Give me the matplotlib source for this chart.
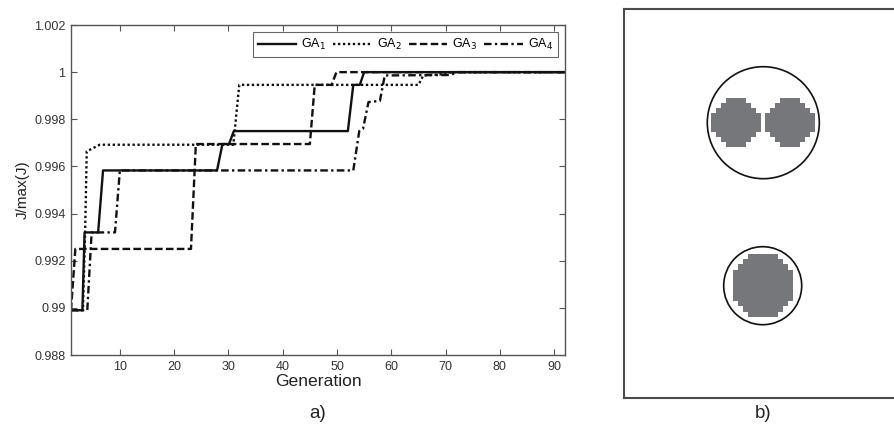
import numpy as np
import matplotlib
matplotlib.use('Agg')
import matplotlib.pyplot as plt
from matplotlib.patches import Circle
from matplotlib.ticker import FuncFormatter

plt.rcParams['font.family'] = ['Liberation Sans', 'DejaVu Sans']

# break points of the best-fitness curves (generation, J/max(J))
ga1_x = [1, 3.1, 3.5, 6.0, 6.9, 27.9, 28.9, 30.1, 31.0, 52.0, 53.0, 54.2, 55.0, 92]
ga1_y = [0.9899, 0.9899, 0.9932, 0.9932, 0.99583, 0.99583, 0.99695, 0.99695,
         0.9975, 0.9975, 0.99946, 0.99946, 1.0, 1.0]

ga2_x = [1, 3.2, 3.6, 3.9, 6.3, 30.9, 32.0, 65.0, 65.9, 70.0, 71.0, 92]
ga2_y = [0.9899, 0.9899, 0.9932, 0.99664, 0.99692, 0.99692, 0.99946, 0.99946,
         0.99986, 0.99992, 1.0, 1.0]

ga3_x = [1, 1.8, 23.1, 24.0, 45.0, 45.9, 49.0, 49.9, 92]
ga3_y = [0.9899, 0.9925, 0.9925, 0.99695, 0.99695, 0.99946, 0.99946, 1.0, 1.0]

ga4_x = [1, 4.0, 4.8, 9.1, 10.0, 53.0, 54.1, 54.8, 55.8, 57.9, 58.8, 71.0, 72.0, 92]
ga4_y = [0.9899, 0.9899, 0.9932, 0.9932, 0.99583, 0.99583, 0.9975, 0.9976,
         0.99873, 0.99878, 0.99986, 0.99988, 1.0, 1.0]

labels = ['GA$_1$', 'GA$_2$', 'GA$_3$', 'GA$_4$']
x_ticks = [10, 20, 30, 40, 50, 60, 70, 80, 90]
y_ticks = [0.988, 0.99, 0.992, 0.994, 0.996, 0.998, 1.0, 1.002]

# panel b): pixel-disc row widths (cells per row) and enclosing circles
blob_left_rows = [4, 6, 8, 10, 10, 10, 10, 8, 6, 4]
blob_right_rows = [4, 6, 8, 10, 10, 10, 10, 8, 6, 4]
blob_low_rows = [6, 8, 10, 12, 12, 12, 12, 12, 12, 10, 8, 6]

fig = plt.figure(figsize=(8.94, 4.30), dpi=100)

# ---- a) ----
ax = fig.add_axes([71 / 894, 1 - 355 / 430, 494 / 894, 330 / 430])
lw = 1.7
ax.plot(ga1_x, ga1_y, color='#111111', lw=lw, label=labels[0])
ax.plot(ga2_x, ga2_y, color='#111111', lw=lw, dashes=(1.0, 1.1), label=labels[1])
ax.plot(ga3_x, ga3_y, color='#111111', lw=lw, dashes=(3.2, 1.4), label=labels[2])
ax.plot(ga4_x, ga4_y, color='#111111', lw=lw, dashes=(3.2, 1.4, 1.0, 1.4), label=labels[3])

ax.set_xlim(1, 92)
ax.set_ylim(0.988, 1.002)
ax.set_xticks(x_ticks)
ax.set_yticks(y_ticks)
ax.yaxis.set_major_formatter(FuncFormatter(lambda v, p: '%g' % round(v, 4)))
ax.tick_params(direction='in', length=4.5, width=0.8, color='#555555',
               labelsize=9, labelcolor='#333333', top=True, right=True, pad=4)
for s in ax.spines.values():
    s.set_color('#555555')
    s.set_linewidth(1.0)
ax.set_xlabel('Generation', fontsize=12.6, color='#222222', labelpad=1)
ax.set_ylabel('J/max(J)', fontsize=11, color='#222222', labelpad=3)

leg = ax.legend(loc='upper right', ncol=4, fontsize=9, handlelength=3.1,
                handletextpad=0.4, columnspacing=0.55, borderaxespad=0.55,
                fancybox=False, framealpha=1, edgecolor='#666666', borderpad=0.4)
leg.get_frame().set_linewidth(0.8)

fig.text(318 / 894, 1 - 413 / 430, 'a)', fontsize=13.5, color='#222222',
         ha='center', va='center')

# ---- b) ----
bx = fig.add_axes([624 / 894, 1 - 398 / 430, 276 / 894, 389.3 / 430])
bx.set_xticks([])
bx.set_yticks([])
for s in bx.spines.values():
    s.set_color('#4a4a4a')
    s.set_linewidth(1.5)


def blob_image(rows):
    n = max(rows)
    img = np.zeros((len(rows), n, 4))
    for i, w in enumerate(rows):
        a = (n - w) // 2
        img[i, a:a + w] = matplotlib.colors.to_rgba('#76777b')
    return img


bx.imshow(blob_image(blob_left_rows), extent=(86.7, 136.7, 138.0, 89.6),
          interpolation='nearest', aspect='auto')
bx.imshow(blob_image(blob_right_rows), extent=(141.0, 190.0, 138.0, 89.6),
          interpolation='nearest', aspect='auto')
bx.imshow(blob_image(blob_low_rows), extent=(108.7, 168.7, 308.0, 245.3),
          interpolation='nearest', aspect='auto')
bx.add_patch(Circle((139.3, 114.0), 56, fill=False, ec='#111111', lw=1.2))
bx.add_patch(Circle((138.7, 277.0), 39, fill=False, ec='#111111', lw=1.2))
bx.set_xlim(0, 276)
bx.set_ylim(389.3, 0)

fig.text(763 / 894, 1 - 413 / 430, 'b)', fontsize=13.5, color='#222222',
         ha='center', va='center')

fig.savefig('out.png', dpi=100, facecolor='white')
